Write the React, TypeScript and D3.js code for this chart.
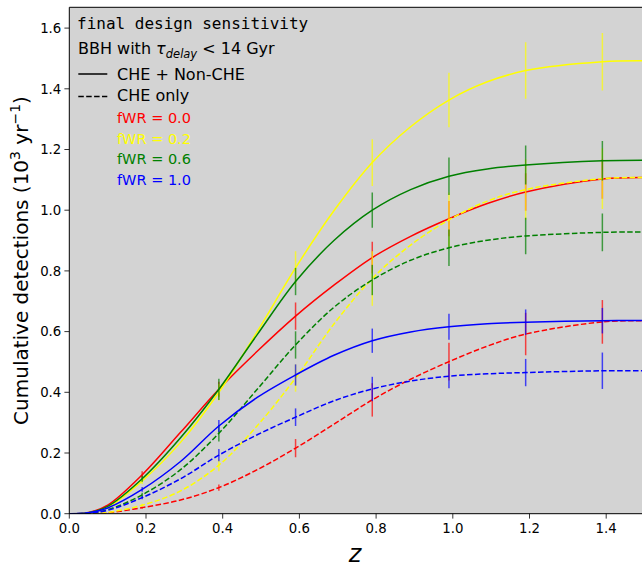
import React from "react";
import * as d3 from "d3";

// ---- data ----
const zGrid = [0, 0.05, 0.1, 0.19, 0.29, 0.39, 0.49, 0.59, 0.69, 0.79, 0.89, 0.99, 1.09, 1.19, 1.39, 1.5];

const redSolid = [0, 0.004, 0.028, 0.128, 0.268, 0.41, 0.535, 0.651, 0.753, 0.844, 0.914, 0.972, 1.022, 1.06, 1.103, 1.108];
const yellowSolid = [0, 0.003, 0.021, 0.108, 0.235, 0.4, 0.6, 0.81, 0.998, 1.157, 1.275, 1.363, 1.423, 1.46, 1.489, 1.492];
const greenSolid = [0, 0.003, 0.024, 0.115, 0.25, 0.41, 0.59, 0.765, 0.9, 1.0, 1.068, 1.112, 1.136, 1.149, 1.163, 1.165];
const blueSolid = [0, 0.003, 0.019, 0.08, 0.172, 0.289, 0.383, 0.457, 0.522, 0.57, 0.599, 0.616, 0.626, 0.631, 0.636, 0.637];

const redDashed = [0, 0.0005, 0.003, 0.02, 0.045, 0.086, 0.145, 0.216, 0.295, 0.375, 0.443, 0.501, 0.552, 0.592, 0.632, 0.636];
const yellowDashed = [0, 0.0005, 0.004, 0.028, 0.075, 0.16, 0.29, 0.447, 0.625, 0.775, 0.885, 0.968, 1.03, 1.068, 1.104, 1.108];
const greenDashed = [0, 0.002, 0.013, 0.062, 0.145, 0.265, 0.41, 0.556, 0.68, 0.77, 0.835, 0.876, 0.901, 0.915, 0.927, 0.928];
const blueDashed = [0, 0.002, 0.011, 0.053, 0.115, 0.193, 0.26, 0.318, 0.372, 0.411, 0.437, 0.453, 0.461, 0.465, 0.471, 0.471];

const errZ = [0.19, 0.39, 0.59, 0.79, 0.99, 1.19, 1.39];
const redSolidErr = [0.012, 0.025, 0.045, 0.052, 0.058, 0.062, 0.065];
const yellowSolidErr = [0.01, 0.027, 0.055, 0.077, 0.09, 0.093, 0.095];
const greenSolidErr = [0.01, 0.035, 0.045, 0.058, 0.062, 0.064, 0.065];
const blueSolidErr = [0.008, 0.02, 0.035, 0.04, 0.043, 0.042, 0.042];
const redDashedErr = [0.004, 0.01, 0.03, 0.055, 0.062, 0.07, 0.072];
const yellowDashedErr = [0.005, 0.02, 0.045, 0.09, 0.09, 0.1, 0.1];
const greenDashedErr = [0.007, 0.027, 0.045, 0.05, 0.06, 0.06, 0.062];
const blueDashedErr = [0.005, 0.02, 0.029, 0.04, 0.04, 0.045, 0.06];

const fwrLabels = ["fWR = 0.0", "fWR = 0.2", "fWR = 0.6", "fWR = 1.0"];
const fwrColors = ["#ff0000", "#ffff00", "#008000", "#0000ff"];
const xTicks = [0.0, 0.2, 0.4, 0.6, 0.8, 1.0, 1.2, 1.4];
const yTicks = [0.0, 0.2, 0.4, 0.6, 0.8, 1.0, 1.2, 1.4, 1.6];

const groups = [
  { solid: redSolid, dashed: redDashed, solidErr: redSolidErr, dashedErr: redDashedErr },
  { solid: yellowSolid, dashed: yellowDashed, solidErr: yellowSolidErr, dashedErr: yellowDashedErr },
  { solid: greenSolid, dashed: greenDashed, solidErr: greenSolidErr, dashedErr: greenDashedErr },
  { solid: blueSolid, dashed: blueDashed, solidErr: blueSolidErr, dashedErr: blueDashedErr },
];

// ---- layout ----
const W = 642;
const H = 568;
const left = 69.3;
const bottom = 513.7;
const top = 7.3;
const pxPerX = 383.5;
const pxPerY = 303.5;

export default function App() {
  const x = d3.scaleLinear().domain([0, 1.5]).range([left, left + 1.5 * pxPerX]);
  const y = d3.scaleLinear().domain([0, 1]).range([bottom, bottom - pxPerY]);

  const line = d3
    .line<number>()
    .x((_, i) => x(zGrid[i]))
    .y((d) => y(d))
    .curve(d3.curveCatmullRom.alpha(0.5));

  const font = "'DejaVu Sans', sans-serif";
  const plotRight = W + 10;

  const renderErr = (vals: number[], errs: number[], color: string, key: string) =>
    errZ.map((z, j) => {
      const idx = zGrid.indexOf(z);
      const v = vals[idx];
      return (
        <line
          key={key + j}
          x1={x(z)}
          x2={x(z)}
          y1={y(v - errs[j])}
          y2={y(v + errs[j])}
          stroke={color}
          strokeWidth={1.5}
          strokeOpacity={0.7}
        />
      );
    });

  return (
    <svg
      width={W}
      height={H}
      style={{ position: "absolute", left: 0, top: 0, background: "#fff" }}
    >
      <defs>
        <clipPath id="plotclip">
          <rect x={left} y={top} width={plotRight - left} height={bottom - top} />
        </clipPath>
      </defs>
      <rect x={left} y={top} width={plotRight - left} height={bottom - top} fill="#d3d3d3" />

      <g clipPath="url(#plotclip)">
        {groups.map((g, i) => (
          <g key={i}>
            <path d={line(g.solid) || ""} fill="none" stroke={fwrColors[i]} strokeWidth={1.5} />
            <path
              d={line(g.dashed) || ""}
              fill="none"
              stroke={fwrColors[i]}
              strokeWidth={1.5}
              strokeDasharray="5.5,2.4"
            />
            {renderErr(g.solid, g.solidErr, fwrColors[i], "s" + i)}
            {renderErr(g.dashed, g.dashedErr, fwrColors[i], "d" + i)}
          </g>
        ))}
      </g>

      {/* spines */}
      <line x1={left} x2={left} y1={top} y2={bottom} stroke="#000" strokeWidth={1} />
      <line x1={left} x2={plotRight} y1={bottom} y2={bottom} stroke="#000" strokeWidth={1} />
      <line x1={left} x2={plotRight} y1={top} y2={top} stroke="#000" strokeWidth={1} />

      {/* x ticks */}
      {xTicks.map((t) => (
        <g key={"xt" + t}>
          <line x1={x(t)} x2={x(t)} y1={bottom} y2={bottom + 4.9} stroke="#000" strokeWidth={0.8} />
          <text
            x={x(t)}
            y={bottom + 19}
            textAnchor="middle"
            fontFamily={font}
            fontSize={13.3}
            fill="#000"
          >
            {t.toFixed(1)}
          </text>
        </g>
      ))}
      {/* y ticks */}
      {yTicks.map((t) => (
        <g key={"yt" + t}>
          <line x1={left - 4.9} x2={left} y1={y(t)} y2={y(t)} stroke="#000" strokeWidth={0.8} />
          <text
            x={left - 8}
            y={y(t) + 4.8}
            textAnchor="end"
            fontFamily={font}
            fontSize={13.3}
            fill="#000"
          >
            {t.toFixed(1)}
          </text>
        </g>
      ))}

      {/* axis labels */}
      <text
        x={355}
        y={562}
        textAnchor="middle"
        fontFamily={font}
        fontStyle="italic"
        fontSize={24}
        fill="#000"
      >
        z
      </text>
      <text
        transform={`translate(28, ${(top + bottom) / 2}) rotate(-90)`}
        textAnchor="middle"
        fontFamily={font}
        fontSize={20}
        fill="#000"
      >
        Cumulative detections (10
        <tspan dy={-8} fontSize={14}>3</tspan>
        <tspan dy={8}> yr</tspan>
        <tspan dy={-8} fontSize={14}>−1</tspan>
        <tspan dy={8}>)</tspan>
      </text>

      {/* legend */}
      <text x={77} y={29.3} fontFamily="'DejaVu Sans Mono', monospace" fontSize={16} fill="#000">
        final design sensitivity
      </text>
      <text x={78} y={54} fontFamily={font} fontSize={16} fill="#000">
        BBH with{" "}
        <tspan fontStyle="italic">τ</tspan>
        <tspan fontStyle="italic" fontSize={11.5} dy={4}>delay</tspan>
        <tspan dy={-4}> {"< 14 Gyr"}</tspan>
      </text>
      <line x1={78.3} x2={107.3} y1={74} y2={74} stroke="#000" strokeWidth={1.5} />
      <text x={117} y={80} fontFamily={font} fontSize={16} fill="#000">
        CHE + Non-CHE
      </text>
      <line
        x1={78.3}
        x2={107.3}
        y1={96.5}
        y2={96.5}
        stroke="#000"
        strokeWidth={1.5}
        strokeDasharray="5.5,2.4"
      />
      <text x={117} y={101} fontFamily={font} fontSize={16} fill="#000">
        CHE only
      </text>
      {fwrLabels.map((l, i) => (
        <text key={l} x={117} y={123.3 + i * 20.4} fontFamily={font} fontSize={14.5} fill={fwrColors[i]}>
          {l}
        </text>
      ))}
    </svg>
  );
}
